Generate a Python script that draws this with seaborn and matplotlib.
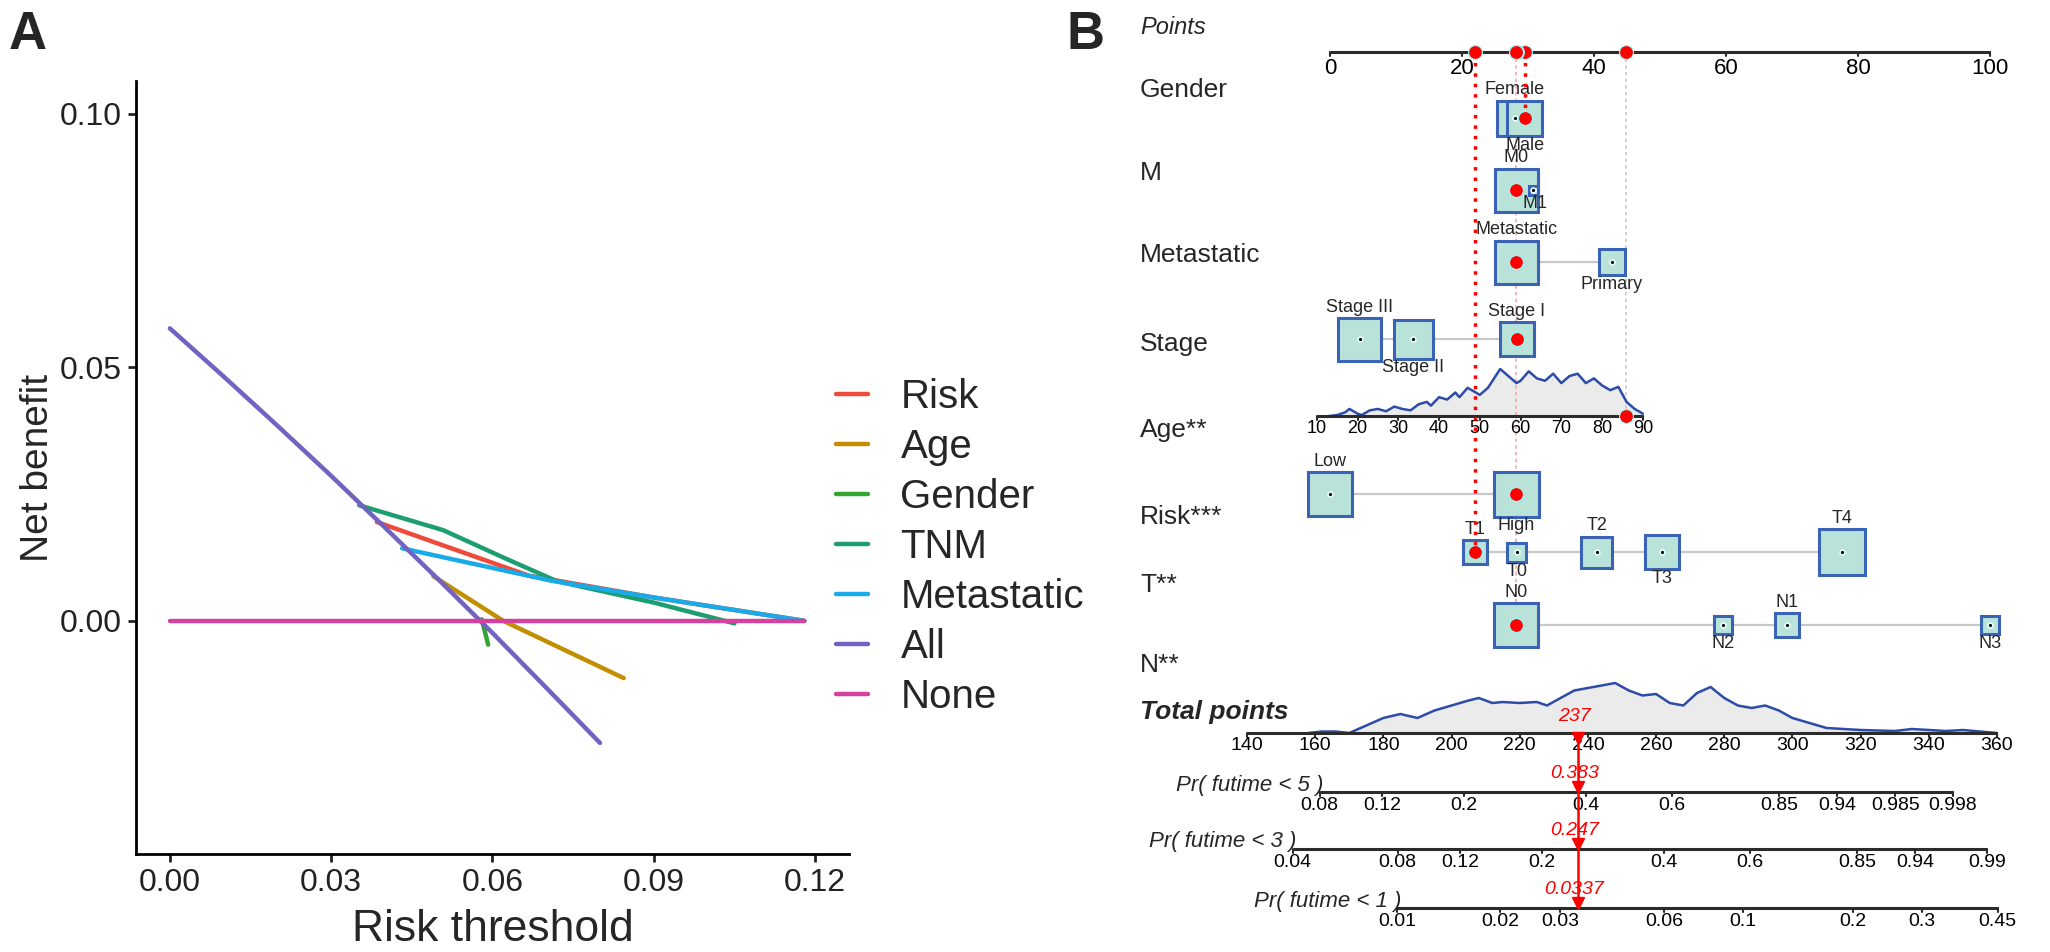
import matplotlib.pyplot as plt
import numpy as np
import pandas as pd
import seaborn as sns
from matplotlib.patches import Rectangle

# ---------------- panel A: decision curves ----------------
curve_names = ['Risk', 'Age', 'Gender', 'TNM', 'Metastatic', 'All', 'None']
curve_colors = ['#EE4B3B', '#C38F00', '#33A532', '#1C9E70', '#1AAAE8', '#7262C2', '#D6409F']

risk_t = [0.0385, 0.0668, 0.0900, 0.1180]
risk_nb = [0.0195, 0.0089, 0.0046, 0.0000]
age_t = [0.0490, 0.0620, 0.0844]
age_nb = [0.0088, 0.0000, -0.0113]
gender_t = [0.0580, 0.0592]
gender_nb = [0.0003, -0.0047]
tnm_t = [0.0352, 0.0508, 0.0620, 0.0720, 0.0900, 0.1050]
tnm_nb = [0.0228, 0.0179, 0.0125, 0.0078, 0.0036, -0.0005]
meta_t = [0.0432, 0.0710, 0.0900, 0.1180]
meta_nb = [0.0143, 0.0079, 0.0046, 0.0000]
all_t = [0.00, 0.01, 0.02, 0.03, 0.04, 0.05, 0.06, 0.07, 0.08]
all_nb = [0.0577, 0.0482, 0.0385, 0.0286, 0.0184, 0.0081, -0.0024, -0.0132, -0.0241]
none_t = [0.00, 0.118]
none_nb = [0.0, 0.0]

x_ticks_a = [0.00, 0.03, 0.06, 0.09, 0.12]
y_ticks_a = [0.00, 0.05, 0.10]

# ---------------- panel B: nomogram ----------------
point_ticks = [0, 20, 40, 60, 80, 100]
age_ticks = [10, 20, 30, 40, 50, 60, 70, 80, 90]
total_ticks = [140, 160, 180, 200, 220, 240, 260, 280, 300, 320, 340, 360]

gender_levels = ['Female', 'Male']
gender_points = [28.0, 29.5]
gender_box = [35, 35]
m_levels = ['M0', 'M1']
m_points = [28.2, 30.8]
m_box = [43, 9]
meta_levels = ['Metastatic', 'Primary']
meta_points = [28.2, 42.7]
meta_box = [43, 26]
stage_levels = ['Stage III', 'Stage II', 'Stage I']
stage_points = [4.5, 12.6, 28.3]
stage_box = [43, 39, 34]
risk_levels = ['Low', 'High']
risk_points = [0.0, 28.2]
risk_box = [44, 45]
t_levels = ['T1', 'T0', 'T2', 'T3', 'T4']
t_points = [22.0, 28.3, 40.4, 50.3, 77.6]
t_box = [24, 19, 31, 34, 46]
n_levels = ['N0', 'N2', 'N1', 'N3']
n_points = [28.2, 59.5, 69.2, 100.0]
n_box = [44, 18, 24, 18]

age_grid = [13, 15, 17, 18, 20, 21, 23, 25, 27, 29, 31, 33, 35, 37, 38, 40, 42, 44, 45, 47, 48,
            50, 52, 55, 57, 59, 60, 62, 64, 66, 68, 70, 72, 74, 76, 78, 80, 82, 84, 86, 88, 90]
age_density = [0.0, 0.02, 0.08, 0.15, 0.05, 0.02, 0.12, 0.15, 0.10, 0.20, 0.15, 0.12, 0.25, 0.30,
               0.22, 0.40, 0.35, 0.50, 0.40, 0.60, 0.55, 0.45, 0.60, 1.00, 0.85, 0.70, 0.75, 0.95,
               0.80, 0.75, 0.90, 0.70, 0.85, 0.90, 0.70, 0.80, 0.65, 0.55, 0.62, 0.30, 0.15, 0.05]
total_grid = [158, 162, 166, 170, 175, 180, 185, 190, 195, 200, 205, 208, 212, 215, 220, 225, 228,
              232, 236, 240, 244, 248, 252, 256, 260, 264, 268, 272, 276, 280, 284, 288, 292, 296,
              300, 305, 310, 315, 320, 325, 330, 335, 340, 345, 350, 355, 360]
total_density = [0.0, 0.03, 0.03, 0.0, 0.15, 0.30, 0.38, 0.30, 0.45, 0.55, 0.65, 0.70, 0.60, 0.62,
                 0.60, 0.62, 0.55, 0.70, 0.85, 0.90, 0.95, 1.00, 0.85, 0.75, 0.78, 0.60, 0.55, 0.80,
                 0.92, 0.70, 0.55, 0.50, 0.55, 0.45, 0.30, 0.20, 0.10, 0.08, 0.06, 0.05, 0.04, 0.08,
                 0.06, 0.04, 0.06, 0.03, 0.0]

pr5_labels = ['0.08', '0.12', '0.2', '0.4', '0.6', '0.85', '0.94', '0.985', '0.998']
pr5_at = [161.3, 179.7, 203.7, 239.4, 264.6, 296.0, 313.0, 330.2, 347.1]
pr3_labels = ['0.04', '0.08', '0.12', '0.2', '0.4', '0.6', '0.85', '0.94', '0.99']
pr3_at = [153.4, 184.2, 202.6, 226.6, 262.3, 287.5, 318.9, 335.9, 357.1]
pr1_labels = ['0.01', '0.02', '0.03', '0.06', '0.1', '0.2', '0.3', '0.45']
pr1_at = [184.1, 214.2, 231.9, 262.4, 285.4, 317.7, 338.0, 360.2]

obs_gender = 'Male'
obs_m = 'M0'
obs_meta = 'Metastatic'
obs_stage = 'Stage I'
obs_risk = 'High'
obs_t = 'T1'
obs_n = 'N0'
obs_age = 85.4
obs_age_points = 44.9
obs_total = 237
obs_probs = ['0.383', '0.247', '0.0337']

# ---------------- style ----------------
sns.set_style('white')
plt.rcParams['font.family'] = ['Liberation Sans', 'DejaVu Sans']

fig = plt.figure(figsize=(20.5, 9.52), dpi=100)
W, H = 2050.0, 952.0

# ---------------- panel A ----------------
ax_a = fig.add_axes([136 / W, 1 - 854 / H, (849 - 136) / W, (854 - 81) / H])
pieces = []
for name, tt, nb in zip(curve_names,
                        [risk_t, age_t, gender_t, tnm_t, meta_t, all_t, none_t],
                        [risk_nb, age_nb, gender_nb, tnm_nb, meta_nb, all_nb, none_nb]):
    pieces.append(pd.DataFrame({'model': name, 'threshold': tt, 'net_benefit': nb}))
dca = pd.concat(pieces, ignore_index=True)

sns.lineplot(data=dca, x='threshold', y='net_benefit', hue='model', hue_order=curve_names,
             palette=curve_colors, sort=False, estimator=None, linewidth=3.2, ax=ax_a)

ax_a.set_xlim(-0.0063, 0.1263)
ax_a.set_ylim(-0.046, 0.1065)
ax_a.set_xticks(x_ticks_a)
ax_a.set_xticklabels(['%.2f' % v for v in x_ticks_a])
ax_a.set_yticks(y_ticks_a)
ax_a.set_yticklabels(['%.2f' % v for v in y_ticks_a])
ax_a.tick_params(axis='both', labelsize=23, length=6, width=2, pad=4, colors='#222222',
                 direction='out', bottom=True, left=True)
for side in ['top', 'right']:
    ax_a.spines[side].set_visible(False)
for side in ['left', 'bottom']:
    ax_a.spines[side].set_linewidth(2)
    ax_a.spines[side].set_color('black')
ax_a.set_xlabel('Risk threshold', fontsize=32, labelpad=8)
ax_a.set_ylabel('Net benefit', fontsize=28, labelpad=3)

handles, labels = ax_a.get_legend_handles_labels()
ax_a.legend(handles, labels, loc='upper left', bbox_to_anchor=(836 / W, 1 - 378 / H),
            bbox_transform=fig.transFigure, frameon=False, fontsize=29, handlelength=0.8,
            handletextpad=0.8, labelspacing=0.3, borderpad=0, borderaxespad=0)

fig.text(9 / W, 1 - 35 / H, 'A', fontsize=38, fontweight='bold', va='center', ha='left')
fig.text(1066 / W, 1 - 35 / H, 'B', fontsize=38, fontweight='bold', va='center', ha='left')

# ---------------- panel B ----------------
PX0, PX_PER_PT = 1330.0, 6.6          # points scale: 0 pts at pixel 1330


def tp_x(tp):
    # total points 140..360 sit under points -12.58..101.06
    return -12.58 + (np.asarray(tp, dtype=float) - 140) * (113.64 / 220)


def age_x(a):
    return -2.0 + (np.asarray(a, dtype=float) - 10) * 0.6175


ax_b = fig.add_axes([1050 / W, 0, 1000 / W, 1])
ax_b.set_xlim((1050 - PX0) / PX_PER_PT, (2050 - PX0) / PX_PER_PT)
ax_b.set_ylim(H, 0)
ax_b.axis('off')

axis_col = '#2B2B2B'
box_face = '#B9E3D9'
box_edge = '#3A62B5'
label_x = (1140 - PX0) / PX_PER_PT


def draw_axis(xs, y, labels, fs, gap=4):
    ax_b.plot([min(xs), max(xs)], [y, y], color=axis_col, lw=2.2, solid_capstyle='butt', zorder=3)
    for xv, lab in zip(xs, labels):
        ax_b.plot([xv, xv], [y, y + 4], color=axis_col, lw=1.5, zorder=3)
        ax_b.text(xv, y + gap, lab, ha='center', va='top', fontsize=fs, color='black')


# points axis
ax_b.text(label_x, 27, 'Points', fontsize=17, style='italic', va='center', ha='left')
draw_axis(point_ticks, 52, [str(v) for v in point_ticks], 16, gap=6)

# categorical rows
rows = [('Gender', 90, 118, gender_levels, gender_points, gender_box, obs_gender),
        ('M', 173, 190, m_levels, m_points, m_box, obs_m),
        ('Metastatic', 255, 262, meta_levels, meta_points, meta_box, obs_meta),
        ('Stage', 344, 339, stage_levels, stage_points, stage_box, obs_stage),
        ('Risk***', 517, 494, risk_levels, risk_points, risk_box, obs_risk),
        ('T**', 585, 552, t_levels, t_points, t_box, obs_t),
        ('N**', 665, 625, n_levels, n_points, n_box, obs_n)]

obs_x = {}
for name, ly, by, levels, pts, sizes, obs in rows:
    ax_b.text(label_x, ly, name, fontsize=19, va='center', ha='left')
    ax_b.plot([min(pts), max(pts)], [by, by], color='#C8C8C8', lw=1.6, zorder=1)
    for k, (lev, p, s) in enumerate(zip(levels, pts, sizes)):
        w = s / PX_PER_PT
        ax_b.add_patch(Rectangle((p - w / 2, by - s / 2), w, s, facecolor=box_face,
                                 edgecolor=box_edge, lw=2.2, zorder=2))
        ax_b.plot(p, by, 'o', ms=3.5, color='black', mec='#E6FFFF', mew=1.2, zorder=4)
        if k % 2 == 0:
            ax_b.text(p, by - s / 2 - 2, lev, fontsize=13, ha='center', va='bottom')
        else:
            ax_b.text(p + (0.15 * w if s < 12 else 0), by + s / 2 + 1, lev, fontsize=13,
                      ha='center', va='top')
        if lev == obs:
            obs_x[name] = (p, by)

# age row with density
age_y = 416
ax_b.text(label_x, 430, 'Age**', fontsize=19, va='center', ha='left')
age_df = pd.DataFrame({'x': age_x(age_grid), 'y': age_y - 47 * np.asarray(age_density)})
ax_b.fill_between(age_df['x'], age_df['y'], age_y, color='#EBEBEB', zorder=1)
sns.lineplot(data=age_df, x='x', y='y', color='#2C4CA8', lw=1.8, sort=False, estimator=None,
             ax=ax_b, zorder=2)
draw_axis(list(age_x(age_ticks)), age_y, [str(v) for v in age_ticks], 13)
obs_x['Age'] = (obs_age_points, age_y)

# observation guide lines
ax_b.plot([obs_x['Gender'][0]] * 2, [52, 118], color='red', ls=(0, (1, 2)), lw=2.5, zorder=5)
ax_b.plot([obs_x['T**'][0]] * 2, [52, 552], color='red', ls=(0, (1, 2)), lw=2.5, zorder=5)
ax_b.plot([obs_x['N**'][0]] * 2, [52, 625], color='#F3A8A8', ls=(0, (2, 2)), lw=1.2, zorder=1.5)
ax_b.plot([obs_age_points] * 2, [52, age_y], color='#C9C9C9', ls=(0, (2, 2)), lw=1.2, zorder=1.5)

obs_df = pd.DataFrame({'x': [v[0] for v in obs_x.values()], 'y': [v[1] for v in obs_x.values()]})
top_df = pd.DataFrame({'x': [v[0] for v in obs_x.values()], 'y': 52})
for d in [obs_df, top_df]:
    ax_b.plot(d['x'], d['y'], 'o', ms=10, color='#FF0000', mec='#8FFFFF', mew=0.8, zorder=6,
              ls='none')

# total points
total_y = 733
ax_b.text(label_x, 712, 'Total points', fontsize=19, style='italic', fontweight='bold',
          va='center', ha='left')
tot_df = pd.DataFrame({'x': tp_x(total_grid), 'y': total_y - 50 * np.asarray(total_density)})
ax_b.fill_between(tot_df['x'], tot_df['y'], total_y, color='#EBEBEB', zorder=1)
sns.lineplot(data=tot_df, x='x', y='y', color='#2C4CA8', lw=1.8, sort=False, estimator=None,
             ax=ax_b, zorder=2)
draw_axis(list(tp_x(total_ticks)), total_y, [str(v) for v in total_ticks], 14)

# probability axes
pr_rows = [('Pr( futime < 5 )', 792, pr5_labels, pr5_at),
           ('Pr( futime < 3 )', 849, pr3_labels, pr3_at),
           ('Pr( futime < 1 )', 908, pr1_labels, pr1_at)]
for (lab, y, labels, at), pv in zip(pr_rows, obs_probs):
    xs = list(tp_x(at))
    draw_axis(xs, y, labels, 14, gap=5)
    ax_b.text(xs[0] + 0.6, y - 7, lab, fontsize=16, style='italic', ha='right', va='center')
    ax_b.text(tp_x(obs_total - 1), y - 10, pv, fontsize=14, style='italic', color='red',
              ha='center', va='bottom')
    ax_b.plot(tp_x(obs_total), y - 5, 'v', ms=8, color='red', zorder=6)

ax_b.text(tp_x(obs_total - 1), total_y - 8, str(obs_total), fontsize=14, style='italic',
          color='red', ha='center', va='bottom')
ax_b.plot(tp_x(obs_total), total_y + 5, 'v', ms=8, color='red', zorder=6)
ax_b.plot([tp_x(obs_total)] * 2, [total_y, 908], color='red', lw=1.8, zorder=5)

fig.savefig('out.png', dpi=100)
